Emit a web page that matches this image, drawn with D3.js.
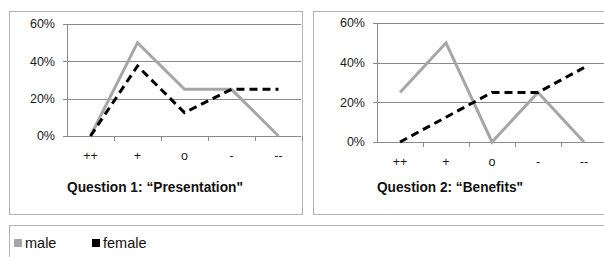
<!DOCTYPE html>
<html>
<head>
<meta charset="utf-8">
<script src="https://cdn.jsdelivr.net/npm/d3@7"></script>
<style>
  body { margin: 0; background: #fff; }
  svg { display: block; font-family: "Liberation Sans", Arial, sans-serif; }
</style>
</head>
<body>
<div id="chart"></div>
<script>
// data
var categories = ["++", "+", "o", "-", "--"];
var yTicks = [0, 0.2, 0.4, 0.6];
var q1Male = [0, 0.5, 0.25, 0.25, 0];
var q1Female = [0, 0.375, 0.125, 0.25, 0.25];
var q2Male = [0.25, 0.5, 0, 0.25, 0];
var q2Female = [0, 0.125, 0.25, 0.25, 0.375];
var titles = ["Question 1: \u201cPresentation\"", "Question 2: \u201cBenefits\""];
var seriesNames = ["male", "female"];
var seriesColors = ["#a6a6a6", "#000"];

var svg = d3.select("#chart")
  .append("svg")
  .attr("width", 604)
  .attr("height", 257);

svg.append("rect").attr("width", 604).attr("height", 257).attr("fill", "#fff");

function drawPanel(box, plot, male, female, title, titleW) {
  // panel frame
  svg.append("rect")
    .attr("x", box.x + 0.5).attr("y", box.y + 0.5)
    .attr("width", box.w).attr("height", box.h)
    .attr("fill", "#fff")
    .attr("stroke", "#b4b4b4");

  var x = d3.scaleBand().domain(categories).range([plot.x0, plot.x1]);
  var y = d3.scaleLinear().domain([0, 0.6]).range([plot.y0, plot.y1]);

  var g = svg.append("g");

  // gridlines
  g.selectAll(".grid").data(yTicks).enter()
    .append("line")
    .attr("x1", plot.x0 - 4).attr("x2", plot.gridEnd)
    .attr("y1", function(d) { return Math.round(y(d)) + 0.5; })
    .attr("y2", function(d) { return Math.round(y(d)) + 0.5; })
    .attr("stroke", "#8c8c8c");

  // y axis line
  g.append("line")
    .attr("x1", plot.x0 + 0.5).attr("x2", plot.x0 + 0.5)
    .attr("y1", y(0.6)).attr("y2", y(0))
    .attr("stroke", "#8c8c8c");

  // x tick marks at band edges
  var edges = categories.map(function(c) { return x(c) + x.bandwidth(); });
  g.selectAll(".xt").data(edges).enter()
    .append("line")
    .attr("x1", function(d) { return Math.round(d) + 0.5; })
    .attr("x2", function(d) { return Math.round(d) + 0.5; })
    .attr("y1", y(0)).attr("y2", y(0) + 5)
    .attr("stroke", "#8c8c8c");

  // y labels
  g.selectAll(".yl").data(yTicks).enter()
    .append("text")
    .attr("x", plot.x0 - 12)
    .attr("y", function(d) { return y(d); })
    .attr("dy", "0.35em")
    .attr("text-anchor", "end")
    .attr("font-size", 12.5)
    .attr("fill", "#1a1a1a")
    .text(d3.format(".0%"));

  // x labels
  g.selectAll(".xl").data(categories).enter()
    .append("text")
    .attr("x", function(d) { return x(d) + x.bandwidth() / 2; })
    .attr("y", y(0) + 24)
    .attr("text-anchor", "middle")
    .attr("font-size", 12.5)
    .attr("fill", "#1a1a1a")
    .text(function(d) { return d; });

  var line = d3.line()
    .x(function(d, i) { return x(categories[i]) + x.bandwidth() / 2; })
    .y(function(d) { return y(d); });

  g.append("path").datum(male)
    .attr("d", line)
    .attr("fill", "none")
    .attr("stroke", seriesColors[0])
    .attr("stroke-width", 3);

  g.append("path").datum(female)
    .attr("d", line)
    .attr("fill", "none")
    .attr("stroke", seriesColors[1])
    .attr("stroke-width", 3)
    .attr("stroke-dasharray", "8,5");

  svg.append("text")
    .attr("x", plot.x0)
    .attr("y", 192)
    .attr("font-size", 15)
    .attr("font-weight", "bold")
    .attr("fill", "#111")
    .attr("textLength", titleW)
    .attr("lengthAdjust", "spacingAndGlyphs")
    .text(title);
}

drawPanel({x: 9, y: 11, w: 293, h: 203},
  {x0: 67, x1: 302, y0: 136, y1: 24, gridEnd: 301},
  q1Male, q1Female, titles[0], 176);

drawPanel({x: 313, y: 11, w: 320, h: 203},
  {x0: 377, x1: 607, y0: 142, y1: 23, gridEnd: 604},
  q2Male, q2Female, titles[1], 146);

// legend
svg.append("rect")
  .attr("x", 9.5).attr("y", 225.5)
  .attr("width", 620).attr("height", 50)
  .attr("fill", "#fff")
  .attr("stroke", "#b4b4b4");

var legendX = [14, 92];
var lg = svg.selectAll(".leg").data(seriesNames).enter()
  .append("g")
  .attr("transform", function(d, i) { return "translate(" + legendX[i] + ",239)"; });

lg.append("rect")
  .attr("width", 8).attr("height", 8)
  .attr("fill", function(d, i) { return seriesColors[i]; });

lg.append("text")
  .attr("x", 11).attr("y", 4)
  .attr("dy", "0.35em")
  .attr("font-size", 14.5)
  .attr("fill", "#111")
  .text(function(d) { return d; });
</script>
</body>
</html>
